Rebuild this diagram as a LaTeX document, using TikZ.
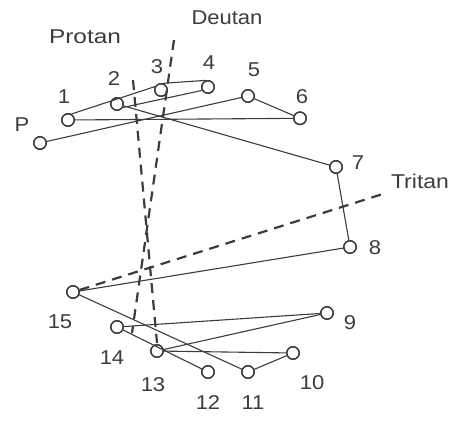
\documentclass[tikz,border=0pt]{standalone}
\usepackage{graphicx}
\usepackage{fontspec}
\setmainfont{Liberation Sans}
\newcommand{\wide}[2]{\scalebox{#1}[1]{#2}}
\begin{document}
\begin{tikzpicture}[x=1pt,y=-1pt,
  capnode/.style={circle,draw=ink,line width=1.3pt,fill=white,minimum size=12.5pt,inner sep=0pt},
  lbl/.style={text=ink,font=\fontsize{20}{20}\selectfont,inner sep=0pt},
  axlbl/.style={text=ink,font=\fontsize{20}{20}\selectfont,inner sep=0pt},
  link/.style={draw=ink,line width=1.1pt},
  axisline/.style={draw=ink,line width=2.2pt,dash pattern=on 10pt off 7pt}]
\definecolor{ink}{HTML}{3C3C3C}
\useasboundingbox (0,0) rectangle (455,428);
% caps
\node[capnode] (P) at (40,143) {};
\node[capnode] (c1) at (68,120) {};
\node[capnode] (c2) at (117,104) {};
\node[capnode] (c3) at (161,90) {};
\node[capnode] (c4) at (208,87) {};
\node[capnode] (c5) at (248,96) {};
\node[capnode] (c6) at (300,118.3) {};
\node[capnode] (c7) at (336,167) {};
\node[capnode] (c8) at (350,247) {};
\node[capnode] (c9) at (327,313) {};
\node[capnode] (c10) at (293,353) {};
\node[capnode] (c11) at (248,372) {};
\node[capnode] (c12) at (208,372) {};
\node[capnode] (c13) at (157,351) {};
\node[capnode] (c14) at (117,327) {};
\node[capnode] (c15) at (73,292) {};
% axis end points
\coordinate (protanA) at (133,80);
\coordinate (protanB) at (157,343);
\coordinate (deutanA) at (174,40);
\coordinate (deutanB) at (132,333);
\coordinate (tritanB) at (386,193);
% connectors (cap sequence)
\draw[link] (P) -- (c5);
\draw[link] (c5) -- (c6);
\draw[link] (c6) -- (c1);
\draw[link] (c1.60) -- (c3.150);
\draw[link] (c3.75) -- (c4.105);
\draw[link] (c4.210) -- (c2.330);
\draw[link] (c2) -- (c7);
\draw[link] (c7) -- (c8);
\draw[link] (c8) -- (c15);
\draw[link] (c15) -- (c11);
\draw[link] (c11) -- (c10);
\draw[link] (c10) -- (c13);
\draw[link] (c13) -- (c9);
\draw[link] (c9) -- (c14);
\draw[link] (c14) -- (c12);
% confusion axes
\draw[axisline] (protanA) -- (protanB);
\draw[axisline] (deutanA) -- (deutanB);
\draw[axisline] (c15) -- (tritanB);
% redraw cap outlines on top
\foreach \n in {P,c1,c2,c3,c4,c5,c6,c7,c8,c9,c10,c11,c12,c13,c14,c15}
  \draw[draw=ink,line width=1.3pt] (\n.center) circle (6.25pt);
% labels
\node[axlbl] (tProtan) at (85,37) {\wide{1.22}{Protan}};
\node[axlbl] (tDeutan) at (227,18) {\wide{1.1}{Deutan}};
\node[axlbl] (tTritan) at (420,181) {\wide{1.15}{Tritan}};
\node[lbl] (lP) at (22,125) {\wide{1.1}{P}};
\node[lbl] (l1) at (64,97) {\wide{1.1}{1}};
\node[lbl] (l2) at (114,79) {\wide{1.1}{2}};
\node[lbl] (l3) at (157,67) {\wide{1.1}{3}};
\node[lbl] (l4) at (209,63) {\wide{1.1}{4}};
\node[lbl] (l5) at (254,70) {\wide{1.1}{5}};
\node[lbl] (l6) at (302,97) {\wide{1.1}{6}};
\node[lbl] (l7) at (358,163) {\wide{1.1}{7}};
\node[lbl] (l8) at (375,248) {\wide{1.1}{8}};
\node[lbl] (l9) at (350,323) {\wide{1.1}{9}};
\node[lbl] (l10) at (312,383) {\wide{1.1}{10}};
\node[lbl] (l11) at (253,403) {\wide{1.1}{11}};
\node[lbl] (l12) at (208,403) {\wide{1.1}{12}};
\node[lbl] (l13) at (153,385) {\wide{1.1}{13}};
\node[lbl] (l14) at (112,358) {\wide{1.1}{14}};
\node[lbl] (l15) at (60,322) {\wide{1.1}{15}};
\end{tikzpicture}
\end{document}
